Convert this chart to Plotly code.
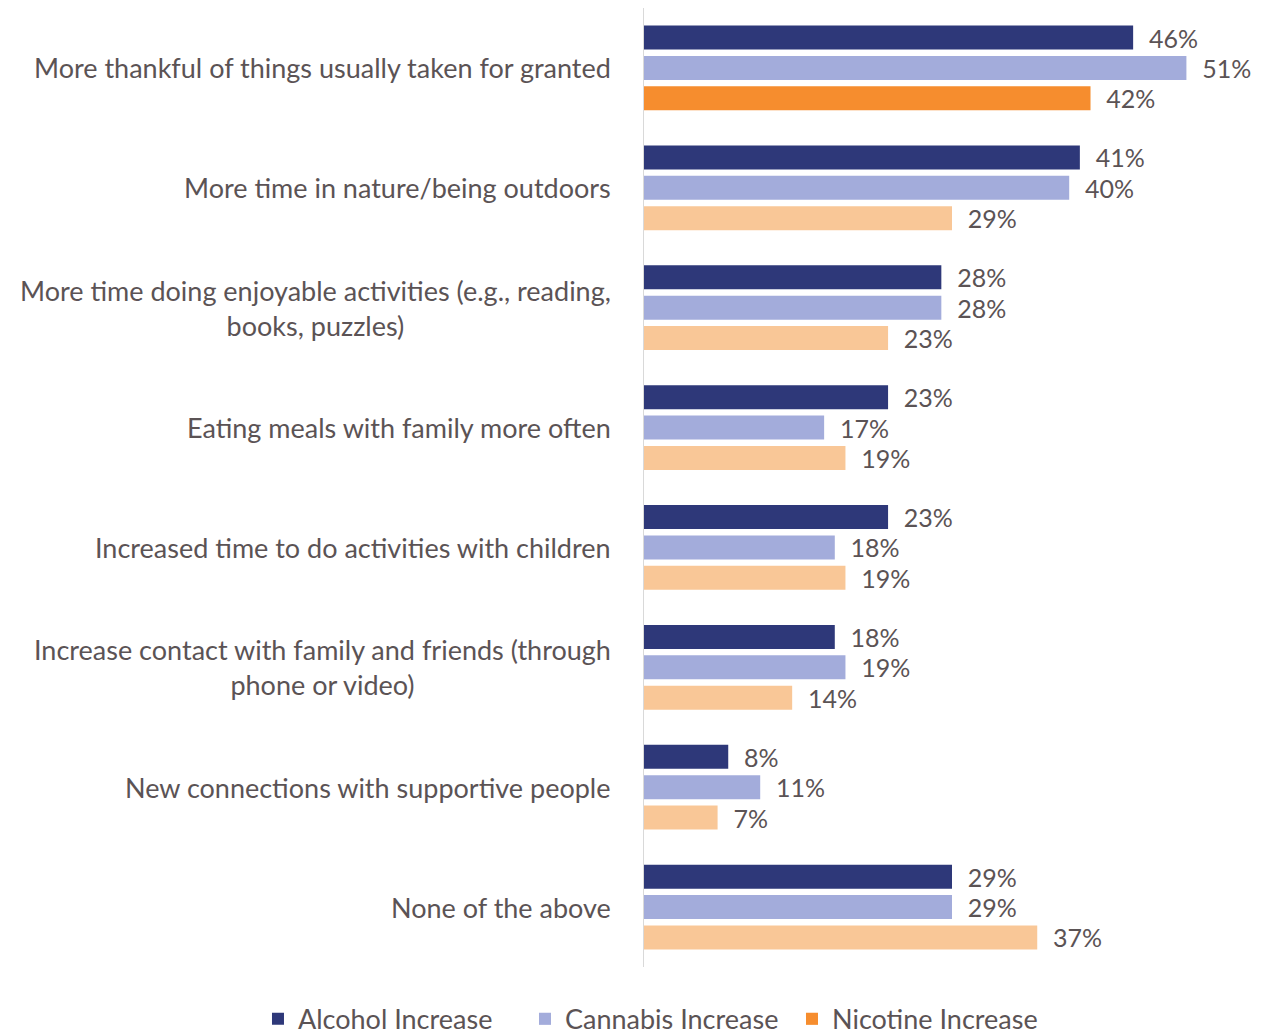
import plotly.graph_objects as go

categories = [
    "More thankful of things usually taken for granted",
    "More time in nature/being outdoors",
    "More time doing enjoyable activities (e.g., reading,<br>books, puzzles)",
    "Eating meals with family more often",
    "Increased time to do activities with children",
    "Increase contact with family and friends (through<br>phone or video)",
    "New connections with supportive people",
    "None of the above",
]
alcohol = [46, 41, 28, 23, 23, 18, 8, 29]
cannabis = [51, 40, 28, 17, 18, 19, 11, 29]
nicotine = [42, 29, 23, 19, 19, 14, 7, 37]

series_names = ["Alcohol Increase", "Cannabis Increase", "Nicotine Increase"]
navy = "#2E3879"
lavender = "#A3ACDB"
orange = "#F68D2E"
peach = "#F9C797"
nicotine_colors = [orange] + [peach] * (len(categories) - 1)

FONT = "Lato"
TEXT = "#5B5355"
pos = list(range(len(categories)))

fig = go.Figure()
for name, vals, col in [
    (series_names[0], alcohol, navy),
    (series_names[1], cannabis, lavender),
    (series_names[2], nicotine, nicotine_colors),
]:
    fig.add_trace(go.Bar(
        y=pos, x=vals, orientation="h", name=name,
        marker=dict(color=col, line=dict(width=0)),
        text=[f"{v}%" for v in vals],
        texttemplate="  %{text}",
        textposition="outside",
        constraintext="none",
        cliponaxis=False,
        textfont=dict(family=FONT, size=25, color=TEXT),
    ))

# category labels drawn as centred multi-line annotations left of the axis
for i, cat in enumerate(categories):
    fig.add_annotation(
        x=0, xref="paper", y=i, yref="y",
        text=cat, showarrow=False, xanchor="right", align="center",
        xshift=-30, font=dict(family=FONT, size=27, color=TEXT),
    )

fig.update_layout(
    width=1263, height=1036,
    margin=dict(l=643, r=2, t=8, b=69, autoexpand=False),
    plot_bgcolor="white", paper_bgcolor="white",
    barmode="group", bargap=0.24, bargroupgap=0.21,
    showlegend=True,
    legend=dict(
        orientation="h", xref="paper", yref="paper",
        x=-0.623, xanchor="left", y=-0.029, yanchor="top",
        font=dict(family=FONT, size=27, color=TEXT),
        traceorder="normal", entrywidth=222, entrywidthmode="pixels",
    ),
    xaxis=dict(range=[0, 58], visible=False, showgrid=False),
    yaxis=dict(
        range=[7.5, -0.5], showticklabels=False, showgrid=False,
        zeroline=False, showline=False, ticks="",
    ),
    shapes=[dict(type="line", xref="x", yref="paper", x0=0, x1=0, y0=0, y1=1,
                 line=dict(color="#D9D9D9", width=2))],
)

fig.write_html("out.html")
